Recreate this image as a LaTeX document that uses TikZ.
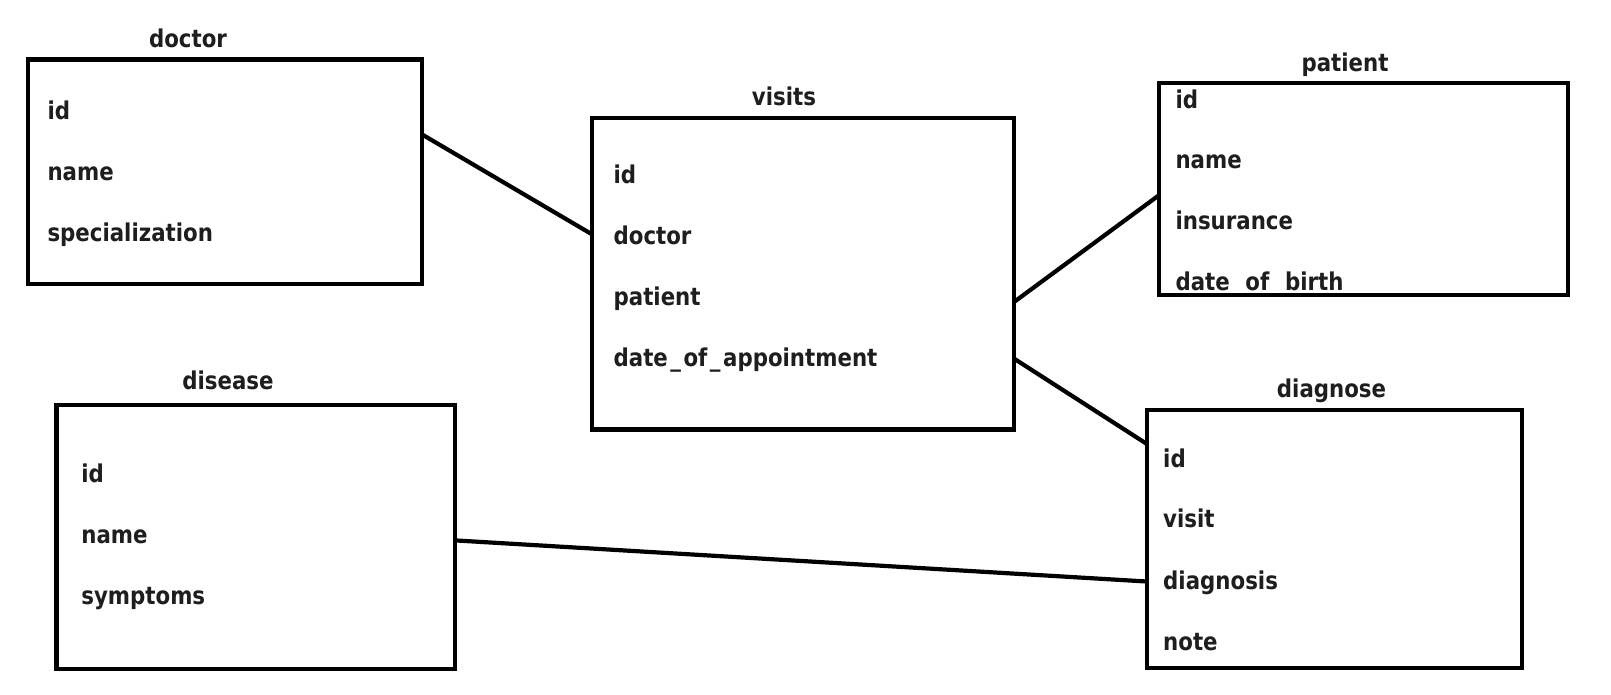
\documentclass[tikz,border=0pt]{standalone}
\usepackage{fontspec}
\setmainfont{DejaVu Sans}[FakeStretch=0.87]
\usetikzlibrary{calc}
\definecolor{txt}{HTML}{1E1E1E}
\newcommand{\usc}{\kern2.5pt\_\kern2.5pt}
\tikzset{
  tbl/.style={draw=black, line width=4.2pt, anchor=north west, inner sep=0pt, outer sep=0pt},
  field/.style={anchor=base west, inner sep=0pt, text=txt, font=\fontsize{24.5}{29}\selectfont\bfseries},
  ttl/.style={anchor=base, inner sep=0pt, text=txt, font=\fontsize{24.5}{29}\selectfont\bfseries},
  link/.style={draw=black, line width=4.2pt}
}
\begin{document}
\begin{tikzpicture}[x=1pt, y=-1pt]
\useasboundingbox[fill=white] (0,0) rectangle (1611,695);

% doctor
\node[ttl] (tdoctor) at (188,47.5) {doctor};
\node[field] (d1) at (47.3,119.5) {id};
\node[field] (d2) at (47.3,181) {name};
\node[field] (d3) at (47.3,241.5) {specialization};
\node[tbl, minimum width=394.6pt, minimum height=224pt] (doctor) at (27.7,59.6) {};

% visits
\node[ttl] (tvisits) at (784,106) {visits};
\node[field] (v1) at (613.4,183.5) {id};
\node[field] (v2) at (613.4,244) {doctor};
\node[field] (v3) at (613.4,305.5) {patient};
\node[field] (v4) at (613.4,366.5) {date\usc of\usc appointment};
\node[tbl, minimum width=422.2pt, minimum height=311.3pt] (visits) at (591.8,118.2) {};

% patient
\node[ttl] (tpatient) at (1345,72) {patient};
\node[field] (p1) at (1175.3,108.5) {id};
\node[field] (p2) at (1175.3,169) {name};
\node[field] (p3) at (1175.3,229.5) {insurance};
\node[field] (p4) at (1175.3,290) {date\usc of\usc birth};
\node[tbl, minimum width=408.8pt, minimum height=211.7pt] (patient) at (1159,83.2) {};

% disease
\node[ttl] (tdisease) at (228,389.5) {disease};
\node[field] (s1) at (81.2,482.5) {id};
\node[field] (s2) at (81.2,543) {name};
\node[field] (s3) at (81.2,604.5) {symptoms};
\node[tbl, minimum width=398.6pt, minimum height=264pt] (disease) at (56.5,404.8) {};

% diagnose
\node[ttl] (tdiagnose) at (1331.5,397) {diagnose};
\node[field] (g1) at (1163,467) {id};
\node[field] (g2) at (1163,527.5) {visit};
\node[field] (g3) at (1163,589) {diagnosis};
\node[field] (g4) at (1163,650) {note};
\node[tbl, minimum width=375pt, minimum height=257.8pt] (diagnose) at (1146.6,410) {};

% connectors
\draw[link] ($(doctor.north east)+(0,75)$) -- ($(visits.north west)+(0,116)$);
\draw[link] ($(visits.north east)+(0,183.8)$) -- ($(patient.north west)+(0,112)$);
\draw[link] ($(visits.north east)+(0,240.4)$) -- ($(diagnose.north west)+(0,33.8)$);
\draw[link] ($(disease.north east)+(0,135.6)$) -- ($(diagnose.north west)+(0,171.5)$);
\end{tikzpicture}
\end{document}
